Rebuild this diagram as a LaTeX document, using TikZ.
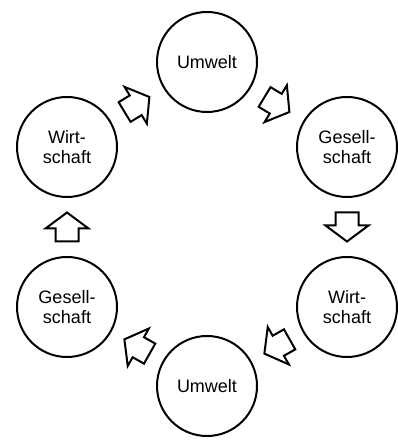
\documentclass[tikz,border=0pt]{standalone}
\usepackage{fontspec}
\setmainfont{Liberation Sans}
\usetikzlibrary{calc}
\tikzset{
  ring/.style={circle, draw=black, line width=2pt, minimum size=100pt, inner sep=0pt,
    align=center, font=\fontsize{18}{20}\selectfont},
  barrow/.pic={\draw[line width=2pt, line join=miter, fill=white]
    (-14.5,-11.5) -- (-1.5,-11.5) -- (-1.5,-21.5) -- (14.5,0) -- (-1.5,21.5) -- (-1.5,11.5) -- (-14.5,11.5) -- cycle;}
}
\newcommand\flowarrow[2]{%
  \path let \p1=(#1.center), \p2=(#2.center), \n1={atan2(\y2-\y1,\x2-\x1)} in
    pic[rotate=\n1] at ($(\p1)!0.5!(\p2)$) {barrow};}
\begin{document}
\begin{tikzpicture}[x=1pt,y=1pt]
\useasboundingbox (0,0) rectangle (398,441);
\node[ring] (w1) at (67,294) {Wirt-\\schaft};
\node[ring] (u1) at (207,379) {Umwelt};
\node[ring] (g1) at (347,294) {Gesell-\\schaft};
\node[ring] (w2) at (347,134) {Wirt-\\schaft};
\node[ring] (u2) at (207,55) {Umwelt};
\node[ring] (g2) at (67,134) {Gesell-\\schaft};
\flowarrow{w1}{u1}
\flowarrow{u1}{g1}
\flowarrow{g1}{w2}
\flowarrow{w2}{u2}
\flowarrow{u2}{g2}
\flowarrow{g2}{w1}
\end{tikzpicture}
\end{document}
